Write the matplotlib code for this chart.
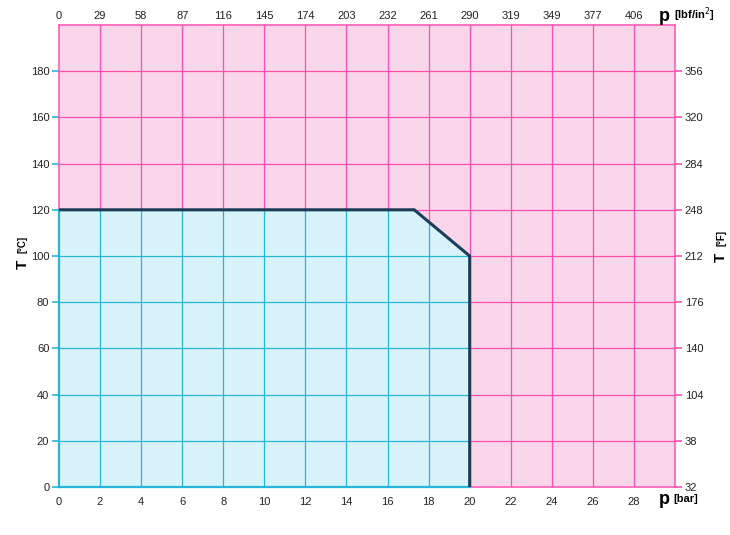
import matplotlib.pyplot as plt
from matplotlib.patches import Polygon

# operating limit curve
p_bar = [0, 17.3, 20, 20]
t_c = [120, 120, 100, 0]

bar_ticks = list(range(0, 30, 2))
psi_labels = ['0', '29', '58', '87', '116', '145', '174', '203', '232', '261',
              '290', '319', '349', '377', '406']
c_ticks = list(range(0, 200, 20))
f_labels = ['32', '38', '104', '140', '176', '212', '248', '284', '320', '356']

pink_fill = '#f9d6ea'
pink_line = '#ff4fae'
cyan_fill = '#d8f4fa'
cyan_line = '#27b6da'
curve_col = '#1d3d58'

plt.rcParams['font.family'] = ['Liberation Sans', 'DejaVu Sans']

fig = plt.figure(figsize=(7.3, 5.35), dpi=100)
ax = fig.add_axes([0.0808, 0.0897, 0.8439, 0.8636])
ax.set_xlim(0, 30)
ax.set_ylim(0, 200)
ax.set_facecolor(pink_fill)

# pink grid everywhere
for x in bar_ticks[1:]:
    ax.axvline(x, color=pink_line, lw=0.9, zorder=1)
for y in c_ticks[1:]:
    ax.axhline(y, color=pink_line, lw=0.9, zorder=1)

# cyan region under the curve
verts = [(0, 0)] + list(zip(p_bar, t_c))
region = Polygon(verts, closed=True, facecolor=cyan_fill, edgecolor='none', zorder=2)
ax.add_patch(region)
for x in bar_ticks[1:]:
    l = ax.axvline(x, color=cyan_line, lw=0.9, zorder=3)
    l.set_clip_path(region)
for y in c_ticks[1:]:
    l = ax.axhline(y, color=cyan_line, lw=0.9, zorder=3)
    l.set_clip_path(region)

for s in ax.spines.values():
    s.set_color(pink_line)
    s.set_linewidth(1.1)
    s.set_zorder(4)
ax.plot([0, 0], [0, 120], color=cyan_line, lw=1.6, zorder=4.5, clip_on=False)
ax.plot([0, 20], [0, 0], color=cyan_line, lw=1.6, zorder=4.5, clip_on=False)

ax.plot(p_bar, t_c, color=curve_col, lw=2.2, zorder=5, solid_joinstyle='miter')

ax.set_xticks(bar_ticks)
ax.set_yticks(c_ticks)
ax.tick_params(axis='x', length=0, pad=7, labelsize=8, labelcolor='#222222')
ax.tick_params(axis='y', length=5, width=1.2, color=cyan_line, pad=2,
               labelsize=8, labelcolor='#222222')

ax_top = ax.twiny()
ax_top.set_xlim(0, 30)
ax_top.set_xticks(bar_ticks)
ax_top.set_xticklabels(psi_labels)
ax_top.tick_params(axis='x', length=0, pad=3, labelsize=8, labelcolor='#222222')

ax_r = ax.twinx()
ax_r.set_ylim(0, 200)
ax_r.set_yticks(c_ticks)
ax_r.set_yticklabels(f_labels)
ax_r.tick_params(axis='y', length=5, width=1.2, color=pink_line, pad=2,
                 labelsize=8, labelcolor='#222222')
for a in (ax_top, ax_r):
    for s in a.spines.values():
        s.set_visible(False)

# axis titles
fig.text(0.902, 0.066, 'p', fontsize=13, fontweight='bold', ha='left', va='center')
fig.text(0.923, 0.068, '[bar]', fontsize=8, fontweight='bold', ha='left', va='center')
fig.text(0.902, 0.970, 'p', fontsize=13, fontweight='bold', ha='left', va='center')
fig.text(0.923, 0.972, '[lbf/in$^2$]', fontsize=8, fontweight='bold', ha='left', va='center')
fig.text(0.031, 0.505, 'T', fontsize=11, fontweight='bold', rotation=90, ha='center', va='center')
fig.text(0.031, 0.527, '[°C]', fontsize=7, fontweight='bold', rotation=90, ha='center', va='bottom')
fig.text(0.988, 0.518, 'T', fontsize=11, fontweight='bold', rotation=90, ha='center', va='center')
fig.text(0.988, 0.540, '[°F]', fontsize=7, fontweight='bold', rotation=90, ha='center', va='bottom')

fig.savefig('out.png', dpi=100)
